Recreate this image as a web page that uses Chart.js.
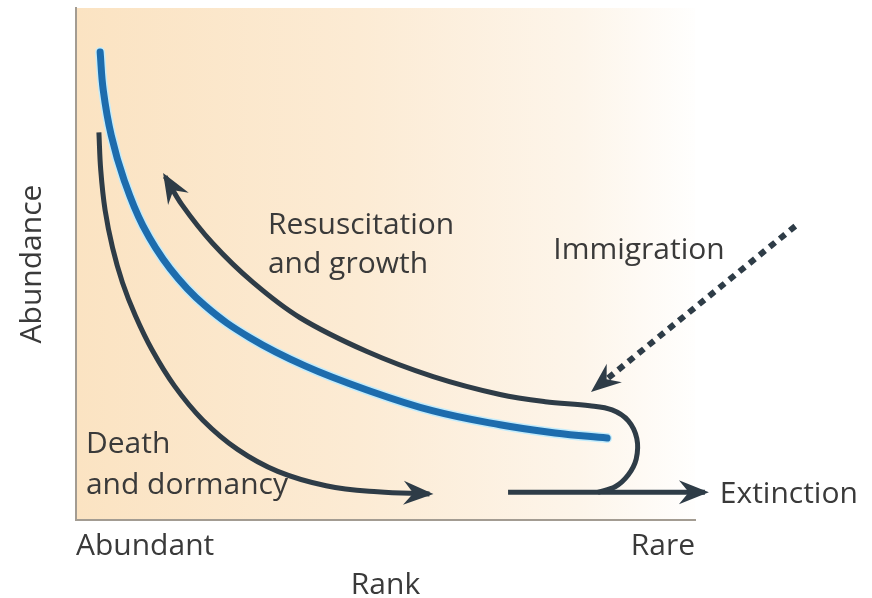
<!DOCTYPE html>
<html>
<head>
<meta charset="utf-8">
<script src="https://cdn.jsdelivr.net/npm/chart.js@4.4.1/dist/chart.umd.min.js"></script>
<style>
  html, body { margin: 0; padding: 0; background: #fff; }
</style>
</head>
<body>
<canvas id="rankChart" width="872" height="598"></canvas>
<script>
// courbes : x = rang (0 = abondant, 100 = rare), y = abondance (0..100)
const abundanceCurve = [[3.9, 91.4], [4.4, 84.0], [5.7, 75.1], [7.8, 66.3], [10.8, 57.5], [15.2, 49.1],
  [20.8, 41.9], [28.1, 35.6], [37.0, 30.1], [47.0, 25.4], [57.7, 21.3], [68.5, 18.6],
  [77.4, 17.0], [85.8, 16.0]];

const deathCurve = [[3.7, 75.7], [4.0, 68.3], [4.7, 60.5], [5.9, 53.2], [7.5, 46.4], [9.6, 39.9],
  [12.3, 33.2], [15.9, 26.2], [20.5, 19.5], [26.1, 13.8], [32.6, 9.5], [40.4, 6.7],
  [48.7, 5.5], [57.1, 5.1]];

// part de la boucle (extinction) et remonte vers les abondants
const growthCurve = [[84.3, 5.4], [87.1, 6.5], [89.2, 8.8], [90.5, 11.9], [90.6, 15.9], [89.2, 19.4],
  [86.6, 21.5], [83.0, 22.3], [75.8, 23.1], [68.5, 24.5], [57.7, 28.0], [47.0, 32.9],
  [36.2, 39.5], [28.6, 46.4], [22.1, 54.0], [17.1, 61.6], [14.4, 67.1]];

const extinctionLine = [[69.8, 5.4], [101.6, 5.4]];
const immigrationLine = [[116.2, 57.4], [83.7, 25.5]];

const rankTicks = [0, 100];
const rankLabels = ['Abundant', 'Rare'];

// textes dans le graphique (position en coordonnées des données)
const notes = [
  { text: 'Resuscitation', x: 31.0, y: 55.8 },
  { text: 'and growth', x: 31.0, y: 48.3 },
  { text: 'Immigration', x: 77.1, y: 51.0 },
  { text: 'Death', x: 1.6, y: 13.0 },
  { text: 'and dormancy', x: 1.6, y: 5.1 },
  { text: 'Extinction', x: 104.0, y: 3.3 }
];

const toPoints = arr => arr.map(p => ({ x: p[0], y: p[1] }));

const darkColor = '#2e3c47';
const blueColor = '#1d6cad';

Chart.defaults.font.family = '"Open Sans"';
Chart.defaults.color = '#3a3a3a';

/* PLUGINS */

const backgroundPlugin = {
  id: 'peachBackground',
  beforeDraw(chart) {
    const { ctx, chartArea: a } = chart;
    const grad = ctx.createLinearGradient(a.left, 0, a.right + 10, 0);
    grad.addColorStop(0, '#fbe3c2');
    grad.addColorStop(0.45, '#fcebd4');
    grad.addColorStop(0.8, '#fdf5ea');
    grad.addColorStop(1, '#ffffff');
    ctx.save();
    ctx.fillStyle = grad;
    ctx.fillRect(a.left, a.top, a.right - a.left, a.bottom - a.top);
    ctx.restore();
  }
};

const arrowPlugin = {
  id: 'arrowHeads',
  afterDatasetsDraw(chart) {
    const ctx = chart.ctx;
    chart.data.datasets.forEach((ds, i) => {
      if (!ds.arrowHead) return;
      const pts = chart.getDatasetMeta(i).data;
      const last = pts[pts.length - 1];
      const prev = pts[pts.length - 2];
      const ang = Math.atan2(last.y - prev.y, last.x - prev.x);
      const L = 26, W = 12;
      ctx.save();
      ctx.translate(last.x, last.y);
      ctx.rotate(ang);
      ctx.fillStyle = darkColor;
      ctx.beginPath();
      ctx.moveTo(4, 0);
      ctx.lineTo(-L, -W);
      ctx.lineTo(-L * 0.62, 0);
      ctx.lineTo(-L, W);
      ctx.closePath();
      ctx.fill();
      ctx.restore();
    });
  }
};

const notesPlugin = {
  id: 'notes',
  afterDraw(chart) {
    const { ctx, scales } = chart;
    ctx.save();
    ctx.font = '30px "Open Sans"';
    ctx.fillStyle = '#3a3a3a';
    ctx.textBaseline = 'alphabetic';
    notes.forEach(n => {
      ctx.fillText(n.text, scales.x.getPixelForValue(n.x), scales.y.getPixelForValue(n.y));
    });
    ctx.restore();
  }
};

/* GRAPHIQUE */

const ctx = document.getElementById('rankChart').getContext('2d');

const chart = new Chart(ctx, {
  type: 'scatter',
  data: {
    datasets: [
      {
        data: toPoints(abundanceCurve),
        borderColor: blueColor,
        borderWidth: 7,
        borderCapStyle: 'round'
      },
      {
        data: toPoints(abundanceCurve), // halo clair autour de la courbe bleue
        borderColor: '#c4ecfb',
        borderWidth: 10,
        borderCapStyle: 'round'
      },
      {
        data: toPoints(deathCurve),
        borderColor: darkColor,
        borderWidth: 5,
        arrowHead: true
      },
      {
        data: toPoints(growthCurve),
        borderColor: darkColor,
        borderWidth: 5,
        tension: 0.35,
        arrowHead: true
      },
      {
        data: toPoints(extinctionLine),
        borderColor: darkColor,
        borderWidth: 5,
        tension: 0,
        arrowHead: true
      },
      {
        data: toPoints(immigrationLine),
        borderColor: darkColor,
        borderWidth: 6,
        borderDash: [7, 6],
        tension: 0,
        arrowHead: true
      }
    ]
  },
  options: {
    responsive: false,
    animation: false,
    datasets: {
      scatter: {
        showLine: true,
        pointRadius: 0,
        tension: 0.4,
        clip: false
      }
    },
    layout: {
      padding: { left: 14, right: 177, top: 8, bottom: 0 }
    },
    plugins: {
      legend: { display: false },
      tooltip: { enabled: false }
    },
    scales: {
      x: {
        type: 'linear',
        min: 0,
        max: 100,
        afterBuildTicks: scale => { scale.ticks = rankTicks.map(v => ({ value: v })); },
        ticks: {
          align: 'inner',
          padding: 8,
          font: { size: 30 },
          color: '#3a3a3a',
          callback: (value, index) => rankLabels[index]
        },
        grid: { display: false, drawTicks: false },
        border: { display: true, color: '#a39c92', width: 2 },
        title: {
          display: true,
          text: 'Rank',
          font: { size: 30 },
          color: '#3a3a3a',
          padding: { top: -5, bottom: -5 }
        }
      },
      y: {
        type: 'linear',
        min: 0,
        max: 100,
        ticks: { display: false },
        grid: { display: false, drawTicks: false },
        border: { display: true, color: '#a39c92', width: 2 },
        title: {
          display: true,
          text: 'Abundance',
          font: { size: 30 },
          color: '#3a3a3a',
          padding: { top: 0, bottom: 26 }
        }
      }
    }
  },
  plugins: [backgroundPlugin, arrowPlugin, notesPlugin]
});
</script>
</body>
</html>
